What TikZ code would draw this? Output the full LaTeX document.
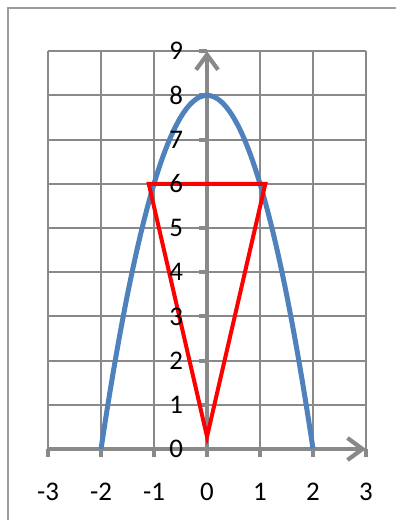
\documentclass[tikz,border=0pt]{standalone}
\usepackage{fontspec}
\setmainfont{Carlito}
\usetikzlibrary{arrows.meta}
\definecolor{gridgrey}{HTML}{898989}
\definecolor{framegrey}{HTML}{9C9C9C}
\definecolor{curveblue}{HTML}{4F81BD}

\begin{document}
\begin{tikzpicture}[x=53bp,y=44.2bp,
		gridline/.style={draw=gridgrey,line width=2bp},
		axisline/.style={draw=gridgrey,line width=4.2bp,-{Straight Barb[length=15bp,width=22bp]}},
		tickmark/.style={draw=gridgrey,line width=4bp},
		numlabel/.style={font=\fontsize{27}{27}\selectfont,inner sep=0pt},
	]
	\useasboundingbox (-3.906,10.158) rectangle (3.547,-1.606);

	% frame of the chart area
	\coordinate (fbl) at (-3.755,-1.7);
	\coordinate (ftl) at (-3.755,9.977);
	\coordinate (ftr) at (3.7,9.977);
	\draw[framegrey,line width=2bp] (fbl) -- (ftl) -- (ftr);

	% grid
	\foreach \x in {-3,...,3}
		\draw[gridline] (\x,0) -- (\x,9);
	\foreach \y in {1,...,9}
		\draw[gridline] (-3,\y) -- (3,\y);

	% axes
	\coordinate (xstart) at (-3,0);
	\coordinate (xend) at (3,0);
	\coordinate (o) at (0,0);
	\coordinate (yend) at (0,9);
	\foreach \x in {-3,...,3}
		\draw[tickmark] (\x,0) -- ++(0,-8bp);
	\foreach \y in {0,...,9}
		\draw[tickmark] (0,\y) -- ++(-8bp,0);
	\draw[axisline] (xstart) -- (xend);
	\draw[axisline] (o) -- (yend);

	% parabola y = 8 - 2x^2
	\draw[curveblue,line width=5bp] plot[domain=-2:2,samples=100] (\x,{8-2*\x*\x});

	% triangle
	\coordinate (tl) at (-1.1,6);
	\coordinate (tr) at (1.1,6);
	\coordinate (tb) at (0,0.28);
	\draw[red,line width=4bp,line join=miter] (tl) -- (tr) -- (tb) -- cycle;

	% labels
	\foreach \y in {0,...,9}
		\node[numlabel,anchor=east] (ylab\y) at (-0.45,\y) {\y};
	\foreach \x in {-3,...,3}
		\node[numlabel] (xlab\x) at (\x,-0.97) {\x};
\end{tikzpicture}
\end{document}
